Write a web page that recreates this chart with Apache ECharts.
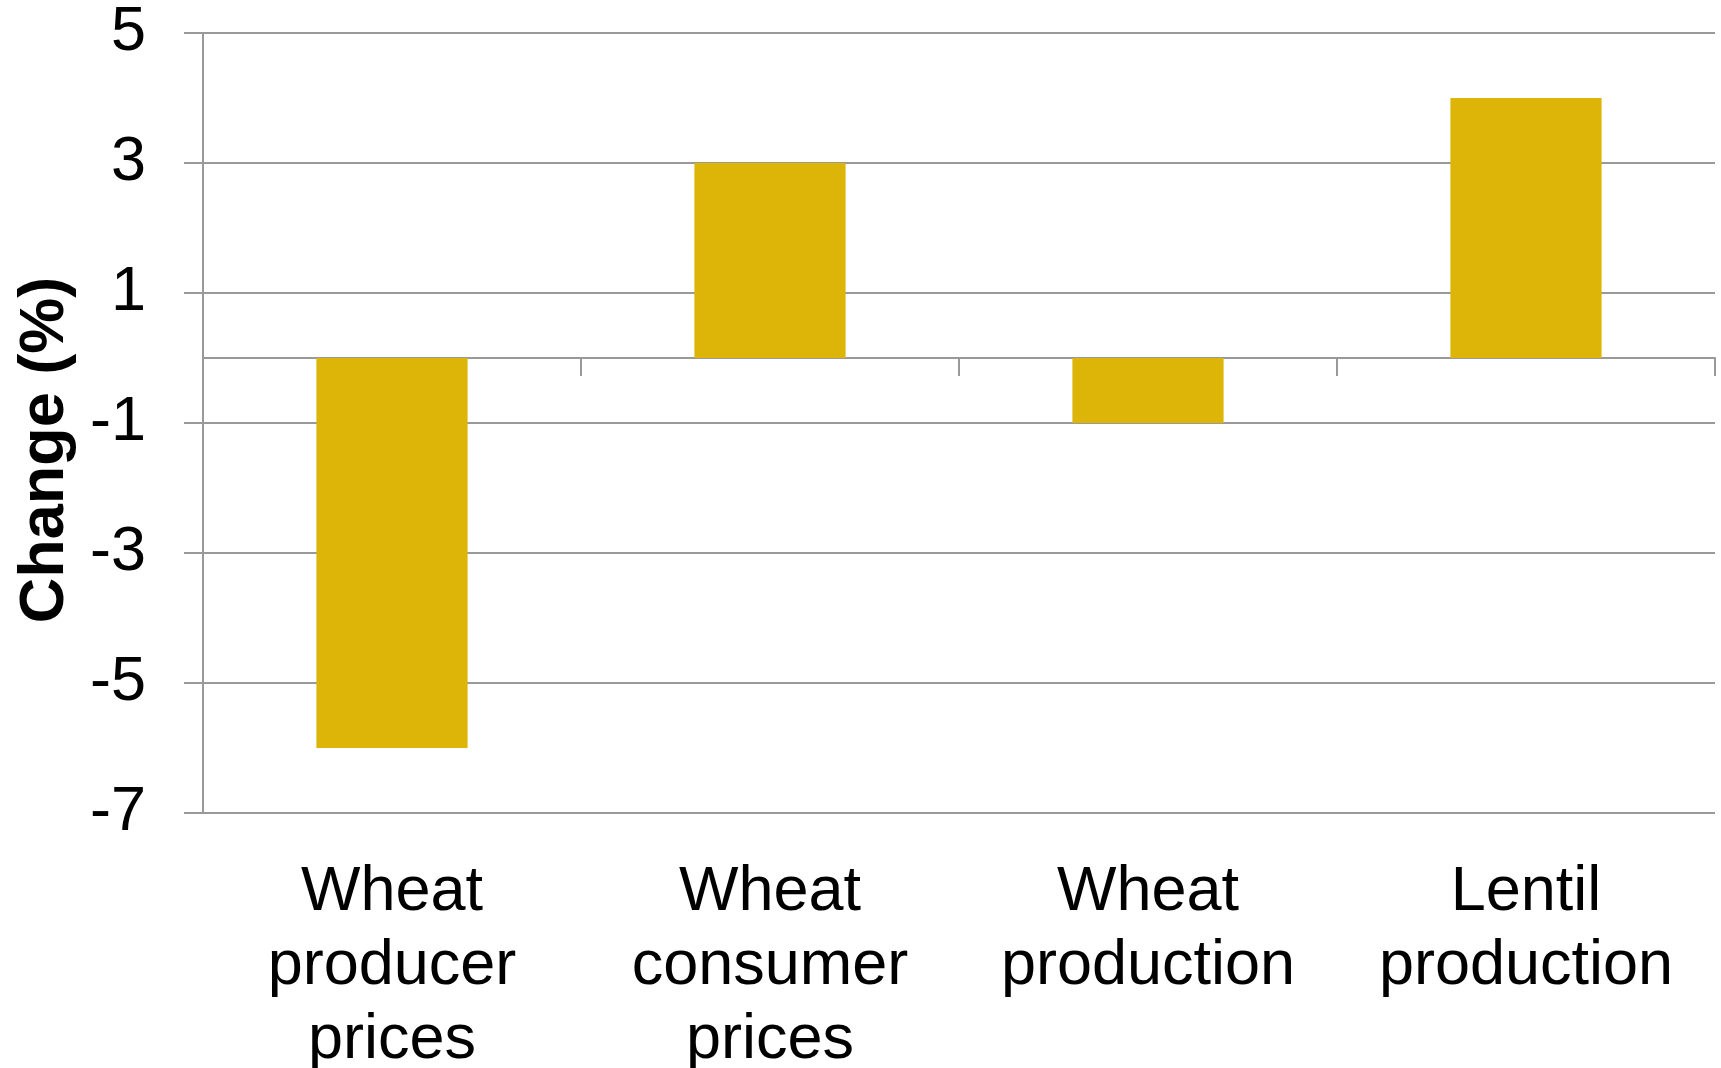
<!DOCTYPE html>
<html>
<head>
<meta charset="utf-8">
<title>Change (%)</title>
<script src="https://cdn.jsdelivr.net/npm/echarts@6/dist/echarts.min.js"></script>
<style>
  html, body { margin: 0; padding: 0; background: #ffffff; }
  #chart { width: 1721px; height: 1068px; }
</style>
</head>
<body>
<div id="chart"></div>
<script>
// Category labels (line breaks as they appear under each bar)
const categories = [
  'Wheat\nproducer\nprices',
  'Wheat\nconsumer\nprices',
  'Wheat\nproduction',
  'Lentil\nproduction'
];
// Percentage change per category
const changeValues = [-6, 3, -1, 4];
// Value-axis ticks
const yTicks = [-7, -5, -3, -1, 1, 3, 5];
const yMin = -7;
const yMax = 5;

const FONT = 'Liberation Sans, Arial, Helvetica, sans-serif';
const GRID_COLOR = '#999999';
const BAR_COLOR = '#DDB408';

const chart = echarts.init(document.getElementById('chart'), null, { renderer: 'canvas' });

chart.setOption({
  backgroundColor: '#ffffff',
  animation: false,
  grid: { left: 203, right: 6, top: 33, bottom: 255, containLabel: false, outerBoundsMode: 'none' },
  xAxis: [
    {
      // axis drawn through zero with boundary ticks hanging below
      type: 'category',
      data: categories,
      boundaryGap: true,
      axisLine: { onZero: true, lineStyle: { color: GRID_COLOR, width: 2 } },
      axisTick: { show: true, inside: false, length: 18, alignWithLabel: false,
                  lineStyle: { color: GRID_COLOR, width: 2 } },
      axisLabel: { show: false },
      splitLine: { show: false }
    },
    {
      // category names along the bottom of the plot
      type: 'category',
      data: categories,
      position: 'bottom',
      boundaryGap: true,
      axisLine: { show: false, onZero: false },
      axisTick: { show: false },
      splitLine: { show: false },
      axisLabel: {
        show: true,
        interval: 0,
        margin: 43,
        color: '#000000',
        fontFamily: FONT,
        fontSize: 63,
        lineHeight: 74,
        align: 'center',
        verticalAlign: 'top'
      }
    }
  ],
  yAxis: {
    type: 'value',
    min: yMin,
    max: yMax,
    interval: 2,
    axisLine: { show: true, lineStyle: { color: GRID_COLOR, width: 2 } },
    axisTick: { show: true, length: 19, customValues: yTicks,
                lineStyle: { color: GRID_COLOR, width: 2 } },
    axisLabel: {
      customValues: yTicks,
      margin: 57,
      color: '#000000',
      fontFamily: FONT,
      fontSize: 63
    },
    splitLine: { show: true, lineStyle: { color: GRID_COLOR, width: 2 } }
  },
  graphic: [
    {
      type: 'text',
      x: 46,
      y: 450,
      rotation: Math.PI / 2,
      style: {
        text: 'Change (%)',
        fontFamily: FONT,
        fontSize: 63,
        fontWeight: 'bold',
        fill: '#000000',
        align: 'center',
        verticalAlign: 'middle'
      }
    }
  ],
  series: [
    {
      type: 'bar',
      xAxisIndex: 0,
      data: changeValues,
      barWidth: '40%',
      itemStyle: { color: BAR_COLOR },
      label: { show: false },
      z: 2
    }
  ]
});
</script>
</body>
</html>
